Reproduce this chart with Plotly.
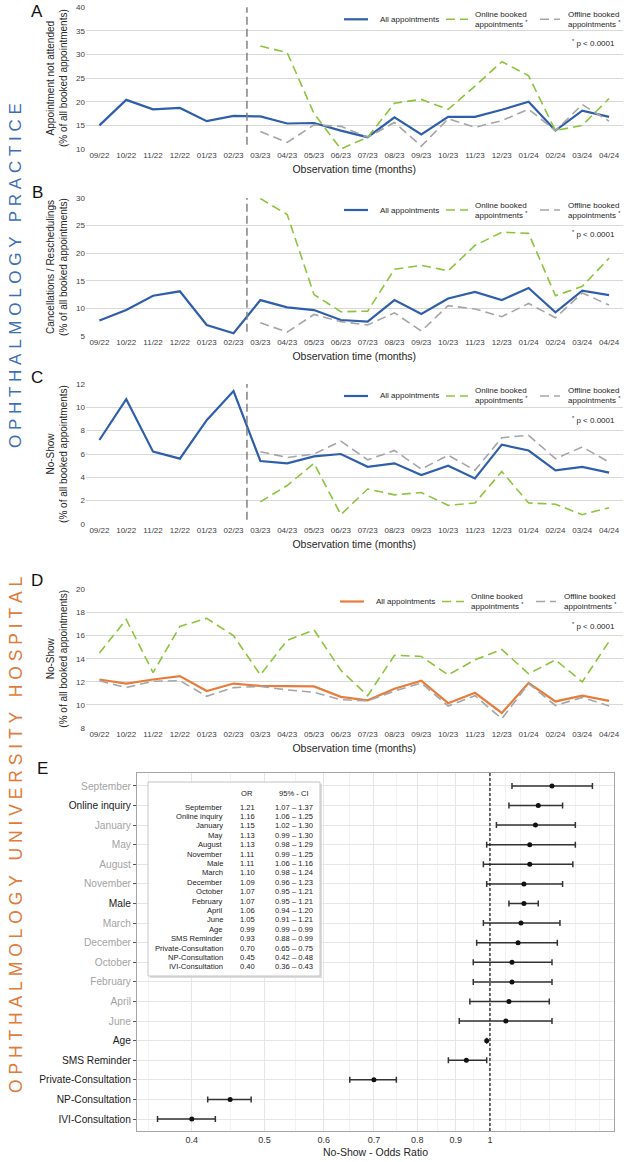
import math
import plotly.graph_objects as go

W, H = 624, 1162
FONT = "Liberation Sans, Arial, sans-serif"

months = ["09/22", "10/22", "11/22", "12/22", "01/23", "02/23", "03/23", "04/23", "05/23", "06/23",
          "07/23", "08/23", "09/23", "10/23", "11/23", "12/23", "01/24", "02/24", "03/24", "04/24"]
months_post = months[6:]

# Panel A: appointment not attended
A_all = [15.0, 20.4, 18.4, 18.7, 15.9, 17.0, 16.9, 15.4, 15.5, 13.9, 12.5, 16.7, 13.1, 16.8, 16.8, 18.3, 20.0, 13.9, 18.1, 16.8]
A_online = [31.8, 30.4, 17.5, 10.0, 12.5, 19.7, 20.5, 18.4, 23.3, 28.5, 25.5, 13.9, 15.0, 20.7]
A_offline = [13.7, 11.4, 15.1, 14.8, 12.5, 15.6, 10.6, 16.4, 14.6, 16.0, 18.4, 13.9, 19.4, 15.9]

# Panel B: cancellations / reschedulings
B_all = [7.8, 9.7, 12.3, 13.1, 7.0, 5.5, 11.5, 10.2, 9.7, 7.9, 7.6, 11.5, 9.0, 11.8, 13.0, 11.5, 13.7, 9.3, 13.2, 12.4]
B_online = [29.9, 27.0, 12.5, 9.4, 9.5, 17.1, 17.8, 16.8, 21.4, 23.8, 23.6, 12.3, 14.0, 19.1]
B_offline = [7.4, 5.7, 8.9, 7.6, 7.0, 9.2, 5.9, 10.5, 9.9, 8.5, 10.9, 8.3, 12.8, 10.6]

# Panel C: no-show (practice)
C_all = [7.2, 10.7, 6.2, 5.6, 8.9, 11.4, 5.4, 5.2, 5.8, 6.0, 4.9, 5.2, 4.2, 5.0, 3.9, 6.8, 6.3, 4.6, 4.9, 4.4]
C_online = [1.9, 3.3, 5.2, 0.8, 3.0, 2.5, 2.7, 1.6, 1.8, 4.5, 1.8, 1.7, 0.8, 1.4]
C_offline = [6.2, 5.7, 6.0, 7.1, 5.5, 6.3, 4.7, 5.9, 4.6, 7.4, 7.6, 5.6, 6.6, 5.3]

# Panel D: no-show (university hospital)
D_all = [12.2, 11.85, 12.2, 12.5, 11.2, 11.85, 11.65, 11.6, 11.6, 10.7, 10.4, 11.4, 12.1, 10.15, 11.05, 9.3, 11.9, 10.3, 10.8, 10.35]
D_online = [14.5, 17.4, 12.8, 16.8, 17.5, 16.0, 12.6, 15.6, 16.5, 13.0, 10.8, 14.3, 14.2, 12.6, 13.9, 14.8, 12.7, 13.9, 12.0, 15.5]
D_offline = [12.1, 11.5, 12.05, 12.1, 10.75, 11.5, 11.6, 11.3, 11.1, 10.45, 10.35, 11.2, 11.9, 9.9, 10.8, 8.8, 11.85, 9.95, 10.65, 9.9]

# Panel E: odds ratios
E_labels = ["September", "Online inquiry", "January", "May", "August", "November", "Male", "March",
            "December", "October", "February", "April", "June", "Age", "SMS Reminder",
            "Private-Consultation", "NP-Consultation", "IVI-Consultation"]
E_or = [1.21, 1.16, 1.15, 1.13, 1.13, 1.11, 1.11, 1.10, 1.09, 1.07, 1.07, 1.06, 1.05, 0.99, 0.93, 0.70, 0.45, 0.40]
E_lo = [1.07, 1.06, 1.02, 0.99, 0.98, 0.99, 1.06, 0.98, 0.96, 0.95, 0.95, 0.94, 0.91, 0.99, 0.88, 0.65, 0.42, 0.36]
E_hi = [1.37, 1.25, 1.30, 1.30, 1.29, 1.25, 1.16, 1.24, 1.23, 1.21, 1.21, 1.20, 1.21, 0.99, 0.99, 0.75, 0.48, 0.43]
E_ticks = [0.4, 0.5, 0.6, 0.7, 0.8, 0.9, 1.0]
E_ticktext = ["0.4", "0.5", "0.6", "0.7", "0.8", "0.9", "1"]
E_minor = [0.35, 0.45, 0.55, 0.65, 0.75, 0.85, 0.95, 1.05, 1.1, 1.2, 1.3, 1.4]
month_names = ["January", "February", "March", "April", "May", "June", "July", "August",
               "September", "October", "November", "December"]

series_names = ["All appointments", "Online booked<br>appointments <sup>*</sup>",
                "Offline booked<br>appointments <sup>*</sup>"]

BLUE = "#2f5faa"
ORANGE = "#e67d3c"
GREEN = "#8cc43c"
GREY = "#a5a5a5"
DASH = "9px,5px"


def px(p):
    return p / W


def py(p):
    return 1 - p / H


def tf(size, color="#262626"):
    return dict(size=size, color=color, family=FONT)


fig = go.Figure()

panels = [
    dict(key="A", all=A_all, on=A_online, off=A_offline, xon=months_post, rng=[10, 40], dt=5,
         top=7.3, bot=149, col=BLUE, title="Appointment not attended<br>(% of all booked appointments)",
         split=True, lx=[344, 446, 540]),
    dict(key="B", all=B_all, on=B_online, off=B_offline, xon=months_post, rng=[5, 30], dt=5,
         top=198, bot=336, col=BLUE, title="Cancellations / Reschedulings<br>(% of all booked appointments)",
         split=True, lx=[344, 446, 540]),
    dict(key="C", all=C_all, on=C_online, off=C_offline, xon=months_post, rng=[0, 12], dt=2,
         top=384, bot=524, col=BLUE, title="No-Show<br>(% of all booked appointments)", split=True,
         lx=[344, 446, 540]),
    dict(key="D", all=D_all, on=D_online, off=D_offline, xon=months, rng=[8, 20], dt=2,
         top=589.5, bot=728, col=ORANGE, title="No-Show<br>(% of all booked appointments)", split=False,
         lx=[340, 442, 536]),
]

letter_pos = {"A": 12, "B": 192, "C": 377, "D": 580}
annotations = []
shapes = []

for i, p in enumerate(panels):
    n = i + 1
    xs = "x" if n == 1 else f"x{n}"
    ys = "y" if n == 1 else f"y{n}"
    styles = [dict(color=p["col"], width=2.2),
              dict(color=GREEN, width=1.6, dash=DASH),
              dict(color=GREY, width=1.6, dash=DASH)]
    fig.add_trace(go.Scatter(x=months, y=p["all"], mode="lines", name="All appointments",
                             line=styles[0], xaxis=xs, yaxis=ys, showlegend=False))
    fig.add_trace(go.Scatter(x=p["xon"], y=p["on"], mode="lines", name="Online booked appointments",
                             line=styles[1], xaxis=xs, yaxis=ys, showlegend=False))
    fig.add_trace(go.Scatter(x=p["xon"], y=p["off"], mode="lines", name="Offline booked appointments",
                             line=styles[2], xaxis=xs, yaxis=ys, showlegend=False))
    xa = dict(domain=[px(86), px(622.5)], anchor=ys, type="category", categoryorder="array",
              categoryarray=months, range=[-0.5, len(months) - 0.5], showgrid=False, showline=False,
              ticks="", tickfont=tf(8, "#404040"), automargin=False,
              title=dict(text="Observation time (months)", font=tf(10.5), standoff=6))
    ya = dict(domain=[py(p["bot"]), py(p["top"])], anchor=xs, range=p["rng"], dtick=p["dt"],
              showgrid=True, gridcolor="#d9d9d9", gridwidth=1, zeroline=False, showline=False, ticks="",
              tickfont=tf(8, "#404040"), automargin=False,
              title=dict(text=p["title"], font=tf(10), standoff=6))
    fig.update_layout(**{("xaxis" if n == 1 else f"xaxis{n}"): xa, ("yaxis" if n == 1 else f"yaxis{n}"): ya})

    # legend keys (drawn by hand so each panel's legend sits exactly like the reference)
    ly = p["top"] + 12
    key_len = [24, 22, 20]
    text_gap = [10, 5, 6]
    for k in range(3):
        x0 = p["lx"][k]
        shapes.append(dict(type="line", xref="paper", yref="paper", x0=px(x0), x1=px(x0 + key_len[k]),
                           y0=py(ly), y1=py(ly), line=styles[k]))
        annotations.append(dict(text=series_names[k], xref="paper", yref="paper",
                                x=px(x0 + key_len[k] + text_gap[k]), y=py(ly), xanchor="left",
                                yanchor="middle", align="left", showarrow=False, font=tf(8)))

    if p["split"]:
        split_at = months.index(p["xon"][0]) - 0.5
        shapes.append(dict(type="line", xref=xs, yref=f"{ys} domain", x0=split_at, x1=split_at, y0=0.03, y1=1,
                           line=dict(color="#808080", width=1.5, dash="8px,4px")))
    annotations.append(dict(text="<sup>*</sup> p < 0.0001", xref="paper", yref="paper", x=px(617),
                            y=py(p["top"] + 36), xanchor="right", yanchor="middle", showarrow=False,
                            font=tf(8)))
    annotations.append(dict(text=p["key"], xref="paper", yref="paper", x=px(37), y=py(letter_pos[p["key"]]),
                            xanchor="center", yanchor="middle", showarrow=False, font=tf(17, "#111111")))

# Panel E: forest plot
err_plus = [h - o for h, o in zip(E_hi, E_or)]
err_minus = [o - l for o, l in zip(E_or, E_lo)]
fig.add_trace(go.Scatter(x=E_or, y=E_labels, mode="markers", showlegend=False,
                         marker=dict(color="#111111", size=5),
                         error_x=dict(type="data", array=err_plus, arrayminus=err_minus, symmetric=False,
                                      color="#333333", thickness=1.5, width=3),
                         xaxis="x5", yaxis="y5"))

ticktext = []
for lab in E_labels:
    c = "#a3a3a3" if lab in month_names else "#1a1a1a"
    ticktext.append(f'<span style="color:{c}">{lab}</span>')

fig.update_layout(
    xaxis5=dict(domain=[px(137), px(614)], anchor="y5", type="log",
                range=[math.log10(0.338), math.log10(1.464)], tickvals=E_ticks, ticktext=E_ticktext,
                showgrid=True, gridcolor="#e6e6e6", gridwidth=1, zeroline=False, automargin=False,
                minor=dict(tickvals=E_minor, showgrid=True, gridcolor="#efefef", gridwidth=0.8, ticks=""),
                showline=True, linecolor="#a6a6a6", linewidth=1, mirror=True, ticks="",
                tickfont=tf(9, "#333333"),
                title=dict(text="No-Show - Odds Ratio", font=tf(10.5), standoff=4)),
    yaxis5=dict(domain=[py(1131), py(773)], anchor="x5", type="category", categoryorder="array",
                categoryarray=E_labels, range=[len(E_labels) - 1 + 0.61, -0.66], automargin=False,
                tickvals=E_labels, ticktext=ticktext, showgrid=True, gridcolor="#e6e6e6", gridwidth=1,
                showline=True, linecolor="#a6a6a6", linewidth=1, mirror=True,
                ticks="outside", ticklen=3, tickcolor="#555555",
                tickfont=tf(10.2, "#1a1a1a")),
)
OR_REF = 1.0
shapes.append(dict(type="line", xref="x5", yref="y5 domain", x0=OR_REF, x1=OR_REF, y0=0, y1=1,
                   line=dict(color="#222222", width=1.3, dash="3px,2px")))

annotations.append(dict(text="E", xref="paper", yref="paper", x=px(42), y=py(768), xanchor="center",
                        yanchor="middle", showarrow=False, font=tf(17, "#111111")))

# Inset table
shapes.append(dict(type="rect", xref="paper", yref="paper", x0=px(150), x1=px(322), y0=py(978), y1=py(784),
                   fillcolor="#dcdcdc", line=dict(width=0), layer="above"))
shapes.append(dict(type="rect", xref="paper", yref="paper", x0=px(148), x1=px(320), y0=py(976), y1=py(782),
                   fillcolor="white", line=dict(color="#c4c4c4", width=1), layer="above"))
annotations.append(dict(text="OR", xref="paper", yref="paper", x=px(247), y=py(793), xanchor="center",
                        yanchor="middle", showarrow=False, font=tf(7.6, "#1a1a1a")))
annotations.append(dict(text="95% - CI", xref="paper", yref="paper", x=px(294), y=py(793), xanchor="center",
                        yanchor="middle", showarrow=False, font=tf(7.6, "#1a1a1a")))
for k, lab in enumerate(E_labels):
    yy = py(807 + k * 9.41)
    annotations.append(dict(text=lab, xref="paper", yref="paper", x=px(225), y=yy, xanchor="right",
                            yanchor="middle", showarrow=False, font=tf(7.6, "#1a1a1a")))
    annotations.append(dict(text=f"{E_or[k]:.2f}", xref="paper", yref="paper", x=px(247), y=yy,
                            xanchor="center", yanchor="middle", showarrow=False, font=tf(7.6, "#1a1a1a")))
    annotations.append(dict(text=f"{E_lo[k]:.2f} \u2013 {E_hi[k]:.2f}", xref="paper", yref="paper", x=px(294),
                            y=yy, xanchor="center", yanchor="middle", showarrow=False, font=tf(7.6, "#1a1a1a")))


def spaced(s):
    return "\u00a0\u00a0\u00a0".join("\u00a0".join(w) for w in s.split(" "))


annotations.append(dict(text=spaced("OPHTHALMOLOGY PRACTICE"), xref="paper", yref="paper", x=px(16), y=py(276),
                        xanchor="center", yanchor="middle", textangle=-90, showarrow=False,
                        font=tf(17, "#3f6fb6")))
annotations.append(dict(text=spaced("OPHTHALMOLOGY UNIVERSITY HOSPITAL"), xref="paper", yref="paper", x=px(16),
                        y=py(835), xanchor="center", yanchor="middle", textangle=-90, showarrow=False,
                        font=tf(17.5, "#e07b39")))

fig.update_layout(width=W, height=H, margin=dict(l=0, r=0, t=0, b=0, autoexpand=False),
                  plot_bgcolor="white", paper_bgcolor="white", annotations=annotations, shapes=shapes,
                  font=dict(family=FONT), showlegend=False, hovermode=False)
fig.write_html("out.html", config={"displayModeBar": False, "staticPlot": True},
               post_script="document.body.style.margin='0';document.body.style.overflow='hidden';")
